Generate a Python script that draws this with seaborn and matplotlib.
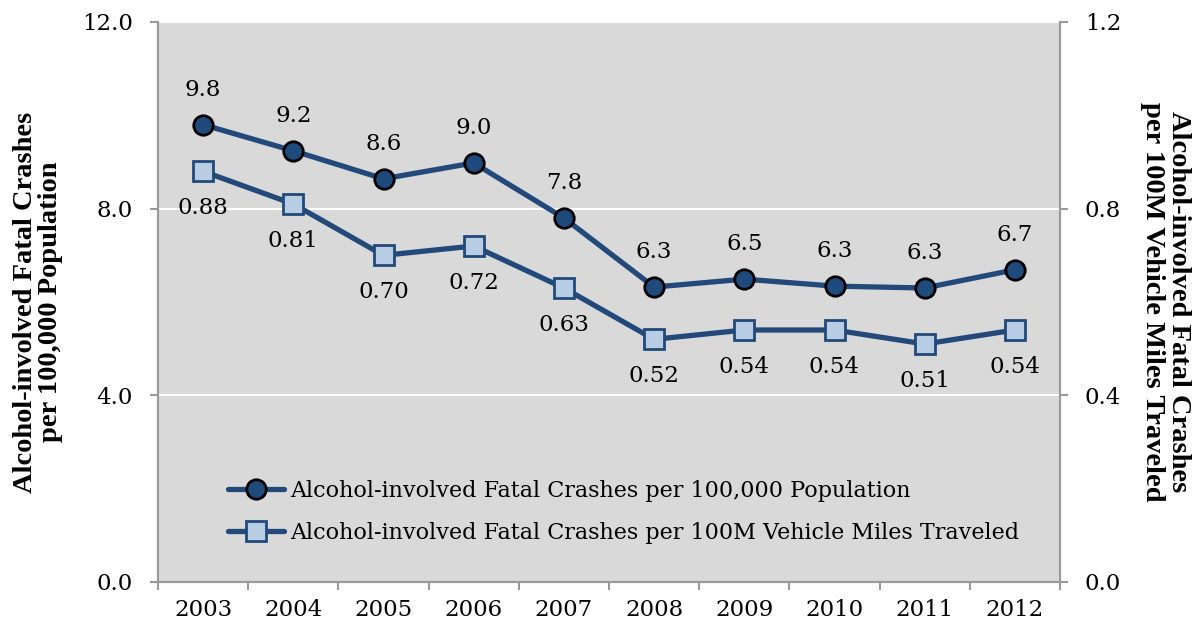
import matplotlib
matplotlib.use("Agg")
import matplotlib.pyplot as plt
import seaborn as sns
import pandas as pd
from matplotlib.ticker import FixedLocator, NullFormatter

years = ["2003", "2004", "2005", "2006", "2007", "2008", "2009", "2010", "2011", "2012"]
per_population = [9.8, 9.24, 8.64, 8.98, 7.8, 6.32, 6.49, 6.34, 6.3, 6.69]
per_vmt = [0.88, 0.81, 0.70, 0.72, 0.63, 0.52, 0.54, 0.54, 0.51, 0.54]

pop_label = "Alcohol-involved Fatal Crashes per 100,000 Population"
vmt_label = "Alcohol-involved Fatal Crashes per 100M Vehicle Miles Traveled"

sns.set_style("white")
plt.rcParams["font.family"] = ["DejaVu Serif"]
plt.rcParams["text.color"] = "black"
plt.rcParams["axes.labelcolor"] = "black"

line_color = "#22497A"
circle_fill = "#1F4A7C"
square_fill = "#B8CCE4"
bg = "#D9D9D9"
spine_c = "#9A9A9A"
fs = 16.5
lw = 3.8
ms = 14

df = pd.DataFrame({"year": years, "pop": per_population, "vmt": per_vmt})

fig = plt.figure(figsize=(12.03, 6.27), dpi=100)
ax = fig.add_axes([158 / 1203, 45 / 627, 902 / 1203, 560 / 627])
ax.set_facecolor(bg)
ax2 = ax.twinx()

sns.lineplot(data=df, x="year", y="pop", ax=ax, color=line_color, linewidth=lw,
             marker="o", markersize=ms, markerfacecolor=circle_fill,
             markeredgecolor="black", markeredgewidth=2, zorder=5)
sns.lineplot(data=df, x="year", y="vmt", ax=ax2, color=line_color, linewidth=lw,
             marker="s", markersize=ms, markerfacecolor=square_fill,
             markeredgecolor=line_color, markeredgewidth=2, zorder=5)

ax.set_xlim(-0.5, 9.5)
ax.set_ylim(0, 12)
ax2.set_ylim(0, 1.2)
ax.set_yticks([0, 4, 8, 12])
ax.set_yticklabels(["0.0", "4.0", "8.0", "12.0"])
ax2.set_yticks([0, 0.4, 0.8, 1.2])
ax2.set_yticklabels(["0.0", "0.4", "0.8", "1.2"])
for y in [4, 8, 12]:
    ax.axhline(y, color="white", linewidth=1.5, zorder=0)

ax.xaxis.set_major_locator(FixedLocator([i - 0.5 for i in range(11)]))
ax.xaxis.set_major_formatter(NullFormatter())
ax.xaxis.set_minor_locator(FixedLocator(list(range(10))))
ax.set_xticklabels(years, minor=True)
ax.tick_params(axis="x", which="major", length=6, width=1.5, color=spine_c, direction="out", bottom=True)
ax.tick_params(axis="x", which="minor", length=0, pad=12, labelsize=fs, labelcolor="black", bottom=True)
ax.tick_params(axis="y", length=6, width=1.5, color=spine_c, labelcolor="black",
               direction="out", left=True, labelsize=fs, pad=12)
ax2.tick_params(axis="y", length=6, width=1.5, color=spine_c, labelcolor="black",
                direction="out", right=True, labelsize=fs, pad=12)

for a in (ax, ax2):
    a.spines["top"].set_visible(False)
    for s in ("left", "right", "bottom"):
        a.spines[s].set_color(spine_c)
        a.spines[s].set_linewidth(1.5)
    a.set_xlabel("")

ax.set_ylabel("Alcohol-involved Fatal Crashes\nper 100,000 Population", fontsize=20.5,
              fontweight="bold", family="Liberation Serif", labelpad=14, linespacing=0.98)
ax2.set_ylabel("Alcohol-involved Fatal Crashes\nper 100M Vehicle Miles Traveled", fontsize=20.5,
               fontweight="bold", family="Liberation Serif", rotation=270, labelpad=50, linespacing=1.05)

for i, v in enumerate(per_population):
    ax.annotate(f"{v:.1f}", (i, v), xytext=(0, 25), textcoords="offset points",
                ha="center", va="center", fontsize=fs)
for i, v in enumerate(per_vmt):
    ax2.annotate(f"{v:.2f}", (i, v), xytext=(0, -26.5), textcoords="offset points",
                 ha="center", va="center", fontsize=fs)

for a in (ax, ax2):
    if a.get_legend() is not None:
        a.get_legend().remove()
h1 = plt.Line2D([], [], color=line_color, linewidth=lw, marker="o", markersize=ms,
                markerfacecolor=circle_fill, markeredgecolor="black", markeredgewidth=2)
h2 = plt.Line2D([], [], color=line_color, linewidth=lw, marker="s", markersize=ms,
                markerfacecolor=square_fill, markeredgecolor=line_color, markeredgewidth=2)
ax2.legend([h1, h2], [pop_label, vmt_label], loc="center left",
           bbox_to_anchor=(0.0776, 0.125), frameon=False, fontsize=16,
           borderpad=0, borderaxespad=0,
           handlelength=2.5, handletextpad=0.3, labelspacing=0.9)

fig.savefig("out.png", dpi=100)
